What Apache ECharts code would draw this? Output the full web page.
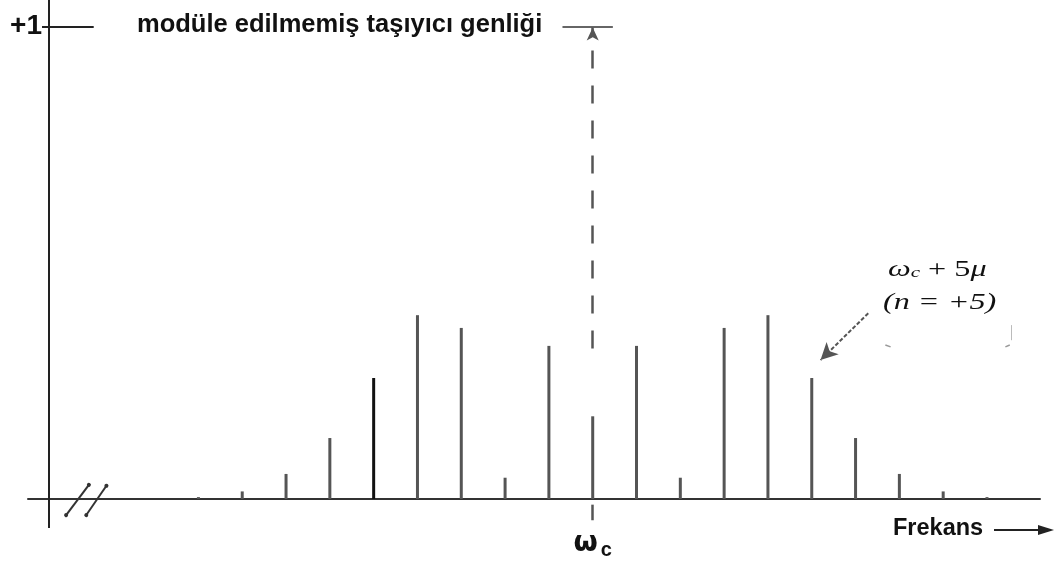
<!DOCTYPE html>
<html>
<head>
<meta charset="utf-8">
<title>Frekans spektrumu</title>
<script src="https://cdn.jsdelivr.net/npm/echarts@6/dist/echarts.min.js"></script>
<style>
  html, body { margin: 0; padding: 0; background: #fff; }
  #chart { width: 1057px; height: 563px; }
</style>
</head>
<body>
<div id="chart"></div>
<script>
// yan bant sırası n (taşıyıcı = 0)
const orders = [-9, -8, -7, -6, -5, -4, -3, -2, -1, 0, 1, 2, 3, 4, 5, 6, 7, 8, 9];
// resimden okunan bağıl genlikler (modüle edilmemiş taşıyıcı = 1)
const amplitudes = [0.004, 0.016, 0.053, 0.129, 0.256, 0.389, 0.362, 0.045, 0.324, 0.175,
                    0.324, 0.045, 0.362, 0.389, 0.256, 0.129, 0.053, 0.016, 0.004];
const yTickLabels = ['+1'];
const carrierLabel = 'ω';

const sansFont = '"Liberation Sans", Arial, sans-serif';
const serifFont = '"Liberation Serif", "Times New Roman", serif';

// eksen sınırları (n birimi ve genlik birimi)
const xMin = -12.89, xMax = 10.21;
const yMin = -0.0614, yMax = 1.056;
const yAxisAt = -12.41;

const chart = echarts.init(document.getElementById('chart'), null, { renderer: 'canvas' });

const barData = orders.map((n, i) => [n, amplitudes[i]]);

const line = (a, b, style, symbols) => [
  { coord: a, symbol: symbols ? symbols[0] : 'none', lineStyle: style },
  { coord: b, symbol: symbols ? symbols[1] : 'none' }
];

const axisStyle = { color: '#222', width: 2, type: 'solid' };

// ωc işareti ve etiketi
const carrierTick = line([0, -0.012], [0, -0.045], { color: '#555', width: 2.5, type: 'solid' });
carrierTick[0].label = {
  show: true,
  position: 'end',
  distance: 7,
  formatter: '{w|' + carrierLabel + '}{c|c}',
  rich: {
    w: { fontFamily: 'DejaVu Sans', fontWeight: 'bold', fontSize: 28, color: '#111' },
    c: { fontFamily: sansFont, fontWeight: 'bold', fontSize: 20, color: '#111', padding: [13, 0, 0, 3] }
  }
};

const option = {
  animation: false,
  grid: { left: 28, right: 17, top: 0, bottom: 35, outerBoundsMode: 'none', containLabel: false },
  xAxis: {
    type: 'value',
    min: xMin,
    max: xMax,
    splitLine: { show: false },
    axisTick: { show: false },
    axisLabel: { show: false },
    axisLine: { onZero: true, lineStyle: { color: '#333', width: 2 } }
  },
  yAxis: {
    type: 'value',
    min: yMin,
    max: yMax,
    splitLine: { show: false },
    axisTick: { show: false },
    axisLine: { show: false },
    axisLabel: {
      customValues: [1],
      margin: -14,
      formatter: () => yTickLabels[0],
      fontFamily: sansFont,
      fontWeight: 'bold',
      fontSize: 28,
      color: '#111'
    }
  },
  series: [
    {
      type: 'bar',
      data: barData,
      barWidth: 3,
      itemStyle: {
        color: (p) => (p.value[0] === -5 ? '#111' : '#555')
      },
      markLine: {
        silent: true,
        animation: false,
        symbol: 'none',
        label: { show: false },
        data: [
          // y ekseni
          line([yAxisAt, yMin], [yAxisAt, yMax], axisStyle),
          // +1 çizgisi
          line([-12.57, 1], [-11.39, 1], axisStyle),
          // taşıyıcı üst çizgisi
          line([-0.69, 1], [0.46, 1], { color: '#666', width: 2, type: 'solid' }),
          // modüle edilmemiş taşıyıcı (kesik çizgi)
          line([0, 0.998], [0, 0.311],
            { color: '#555', width: 2.5, type: [18, 17], dashOffset: 12 }, ['arrow', 'none']),
          carrierTick,
          // eksen kırma işaretleri
          line([-12.02, -0.034], [-11.50, 0.030], { color: '#333', width: 2, type: 'solid' }, ['circle', 'circle']),
          line([-11.56, -0.034], [-11.10, 0.028], { color: '#333', width: 2, type: 'solid' }, ['circle', 'circle']),
          // n = +5 oku
          line([6.29, 0.393], [5.20, 0.294], { color: '#555', width: 2, type: [4, 2] }, ['none', 'arrow']),
          // küçük tarama izleri
          line([6.68, 0.326], [6.80, 0.322], { color: '#999', width: 1.5, type: 'solid' }),
          line([9.42, 0.322], [9.52, 0.326], { color: '#999', width: 1.5, type: 'solid' }),
          line([9.56, 0.368], [9.56, 0.336], { color: '#bbb', width: 1, type: 'solid' })
        ].map((pair) => {
          pair[0].symbolSize = pair[0].symbol === 'arrow' ? [9, 13] : 4;
          pair[1].symbolSize = pair[1].symbol === 'arrow' ? [13, 17] : 4;
          if (pair[0].symbol === 'arrow') pair[0].itemStyle = { color: '#222' };
          if (pair[1].symbol === 'arrow') pair[1].itemStyle = { color: '#111' };
          return pair;
        })
      }
    }
  ],
  graphic: [
    {
      type: 'text',
      left: 137, top: 12,
      style: {
        text: 'modüle edilmemiş taşıyıcı genliği',
        font: 'bold 25.5px ' + sansFont,
        fill: '#111'
      }
    },
    {
      type: 'text',
      x: 888, y: 258,
      scaleX: 1.4,
      style: {
        text: '{w|ω}{s|c}{t| + 5}{m|μ}',
        rich: {
          w: { font: 'italic 23px ' + serifFont, fill: '#111' },
          s: { font: 'italic 15px ' + serifFont, fill: '#111', padding: [7, 0, 0, 0] },
          t: { font: '23px ' + serifFont, fill: '#111' },
          m: { font: 'italic 23px ' + serifFont, fill: '#111' }
        }
      }
    },
    {
      type: 'text',
      x: 883, y: 291,
      scaleX: 1.4,
      style: {
        text: '(n = +5)',
        font: 'italic 23px ' + serifFont,
        fill: '#111'
      }
    },
    {
      type: 'text',
      left: 893, top: 517,
      style: {
        text: 'Frekans',
        font: 'bold 23.5px ' + sansFont,
        fill: '#111'
      }
    },
    {
      type: 'line',
      shape: { x1: 994, y1: 530, x2: 1042, y2: 530 },
      style: { stroke: '#222', lineWidth: 2 }
    },
    {
      type: 'polygon',
      shape: { points: [[1054, 530], [1038, 525], [1038, 535]] },
      style: { fill: '#222' }
    }
  ]
};

chart.setOption(option);
</script>
</body>
</html>
